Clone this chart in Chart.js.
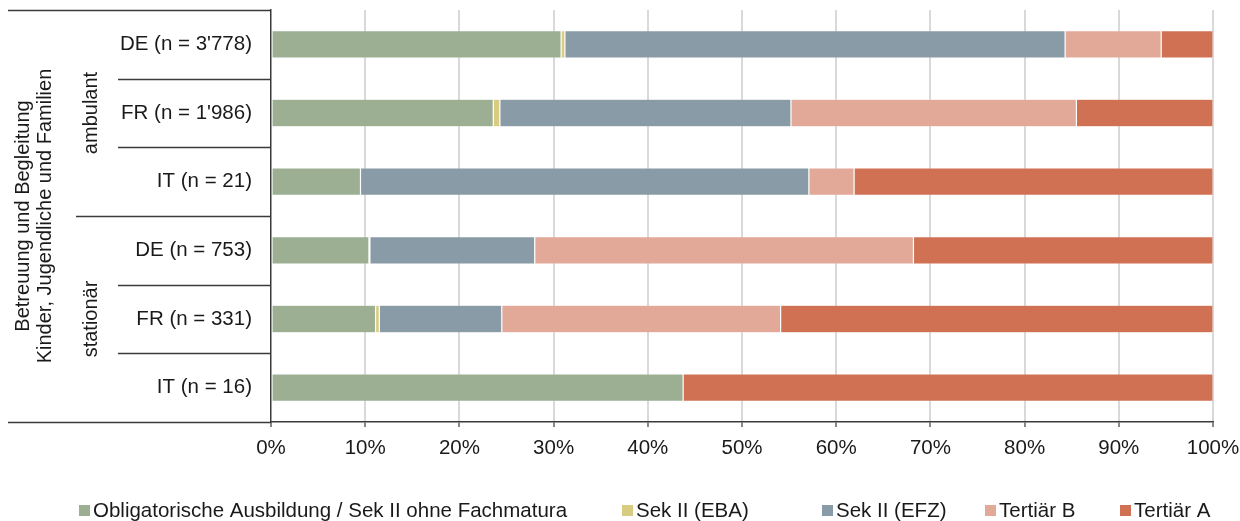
<!DOCTYPE html>
<html lang="de">
<head>
<meta charset="utf-8">
<title>Ausbildungsniveau – Betreuung und Begleitung Kinder, Jugendliche und Familien</title>
<script src="https://cdn.jsdelivr.net/npm/chart.js@4/dist/chart.umd.min.js"></script>
<style>
  html, body { margin: 0; padding: 0; background: #ffffff; }
  #wrap { width: 1240px; height: 521px; }
</style>
</head>
<body>
<div id="wrap"><canvas id="chart" width="1240" height="521"></canvas></div>
<script>
// Rows of the bar chart (top to bottom)
const categories = ["DE (n = 3'778)", "FR (n = 1'986)", "IT (n = 21)", "DE (n = 753)", "FR (n = 331)", "IT (n = 16)"];

// Second category level: setting, and how many rows each spans
const groups = ["ambulant", "stationär"];
const groupSpans = [3, 3];

// Outermost category level (two lines)
const outerLabel = ["Betreuung und Begleitung", "Kinder, Jugendliche und Familien"];

// Shares in percent per education level
const obligatorisch = [30.8, 23.6, 9.5, 10.4, 11.1, 43.75];
const sekEBA        = [0.4, 0.7, 0.0, 0.1, 0.4, 0.0];
const sekEFZ        = [53.1, 30.9, 47.6, 17.5, 13.0, 0.0];
const tertiaerB     = [10.2, 30.3, 4.8, 40.2, 29.6, 0.0];
const tertiaerA     = [5.5, 14.5, 38.1, 31.8, 45.9, 56.25];

// Axis ticks
const xTicks = [0, 10, 20, 30, 40, 50, 60, 70, 80, 90, 100];

const seriesNames = [
  "Obligatorische Ausbildung / Sek II ohne Fachmatura",
  "Sek II (EBA)",
  "Sek II (EFZ)",
  "Tertiär B",
  "Tertiär A"
];
const seriesColors = ["#9daf93", "#d7cc80", "#889ba6", "#e2a998", "#cf7152"];

const FONT = "'Liberation Sans', Arial, sans-serif";
const TEXT = "#1a1a1a";
const LINE = "#3a3a3a";

const seriesValues = [obligatorisch, sekEBA, sekEFZ, tertiaerB, tertiaerA];

const datasets = seriesNames.map((name, i) => ({
  label: name,
  data: seriesValues[i],
  backgroundColor: seriesColors[i],
  borderColor: "rgba(255,255,255,0.3)",
  borderWidth: 0.6,
  borderSkipped: false,
  barPercentage: 0.40,
  categoryPercentage: 1.0
}));

// Multi-level category axis on the left: separators, group and outer labels
const multiLevelAxis = {
  id: "multiLevelAxis",
  afterDraw(chart) {
    const ctx = chart.ctx;
    const y = chart.scales.y;
    const area = chart.chartArea;
    const n = categories.length;
    const boundary = (i) => {
      if (i <= 0) return area.top;
      if (i >= n) return area.bottom;
      return (y.getPixelForValue(i - 1) + y.getPixelForValue(i)) / 2;
    };
    ctx.save();
    ctx.strokeStyle = LINE;
    ctx.lineWidth = 1.5;
    const hline = (x0, yy) => {
      ctx.beginPath();
      ctx.moveTo(x0, Math.round(yy) + 0.5);
      ctx.lineTo(area.left, Math.round(yy) + 0.5);
      ctx.stroke();
    };
    // outer frame top and bottom
    hline(8, area.top);
    hline(8, area.bottom);

    // group boundaries and row separators
    let start = 0;
    const groupRanges = [];
    groupSpans.forEach((span) => {
      groupRanges.push([start, start + span]);
      for (let k = start + 1; k < start + span; k++) hline(118, boundary(k));
      start += span;
    });
    for (let g = 0; g < groupRanges.length - 1; g++) hline(76, boundary(groupRanges[g][1]));

    // group labels (rotated)
    ctx.fillStyle = TEXT;
    ctx.font = "20px " + FONT;
    ctx.textAlign = "center";
    ctx.textBaseline = "middle";
    groupRanges.forEach((r, g) => {
      const cy = (boundary(r[0]) + boundary(r[1])) / 2;
      ctx.save();
      ctx.translate(91, cy);
      ctx.rotate(-Math.PI / 2);
      ctx.fillText(groups[g], 0, 0);
      ctx.restore();
    });

    // outer label (rotated, two lines)
    const cyOuter = (area.top + area.bottom) / 2;
    ctx.save();
    ctx.translate(23, cyOuter);
    ctx.rotate(-Math.PI / 2);
    ctx.fillText(outerLabel[0], 0, 0);
    ctx.fillText(outerLabel[1], 0, 22);
    ctx.restore();
    ctx.restore();
  }
};

// Legend row below the axis
const legendRow = {
  id: "legendRow",
  afterDraw(chart) {
    const ctx = chart.ctx;
    const xs = [79, 622, 822, 985, 1120];
    const yMid = 510;
    ctx.save();
    ctx.font = "20.5px " + FONT;
    ctx.textAlign = "left";
    ctx.textBaseline = "middle";
    chart.data.datasets.forEach((ds, i) => {
      ctx.fillStyle = ds.backgroundColor;
      ctx.fillRect(xs[i], yMid - 5, 11, 11);
      ctx.fillStyle = TEXT;
      ctx.fillText(ds.label, xs[i] + 14, yMid + 1);
    });
    ctx.restore();
  }
};

new Chart(document.getElementById("chart"), {
  type: "bar",
  data: { labels: categories, datasets },
  options: {
    indexAxis: "y",
    responsive: false,
    devicePixelRatio: 1,
    animation: false,
    layout: { padding: { left: 0, right: 27, top: 10, bottom: 0 } },
    plugins: {
      legend: { display: false },
      tooltip: { enabled: false }
    },
    scales: {
      x: {
        stacked: true,
        min: 0,
        max: 100,
        afterBuildTicks: (scale) => { scale.ticks = xTicks.map((v) => ({ value: v })); },
        afterFit: (scale) => {
          scale.height = 99;
          scale.paddingLeft = 0; scale.paddingRight = 0;
          scale.paddingTop = 0; scale.paddingBottom = 0;
        },
        grid: {
          color: (c) => (c.tick && c.tick.value === 0 ? "rgba(0,0,0,0)" : "#d9d9d9"),
          lineWidth: 2,
          drawTicks: true,
          tickLength: 5,
          tickColor: LINE,
          tickWidth: 1.2
        },
        border: { display: true, color: LINE, width: 1.5 },
        ticks: {
          padding: 9,
          color: TEXT,
          font: { family: FONT, size: 20.5 },
          maxRotation: 0,
          callback: (v) => v + "%"
        }
      },
      y: {
        stacked: true,
        afterFit: (scale) => {
          scale.width = 271;
          scale.paddingLeft = 0; scale.paddingRight = 0;
          scale.paddingTop = 0; scale.paddingBottom = 0;
        },
        grid: { display: false, drawTicks: false },
        border: { display: true, color: LINE, width: 1.5 },
        ticks: {
          padding: 19,
          color: TEXT,
          font: { family: FONT, size: 20.5 }
        }
      }
    }
  },
  plugins: [multiLevelAxis, legendRow]
});
</script>
</body>
</html>
